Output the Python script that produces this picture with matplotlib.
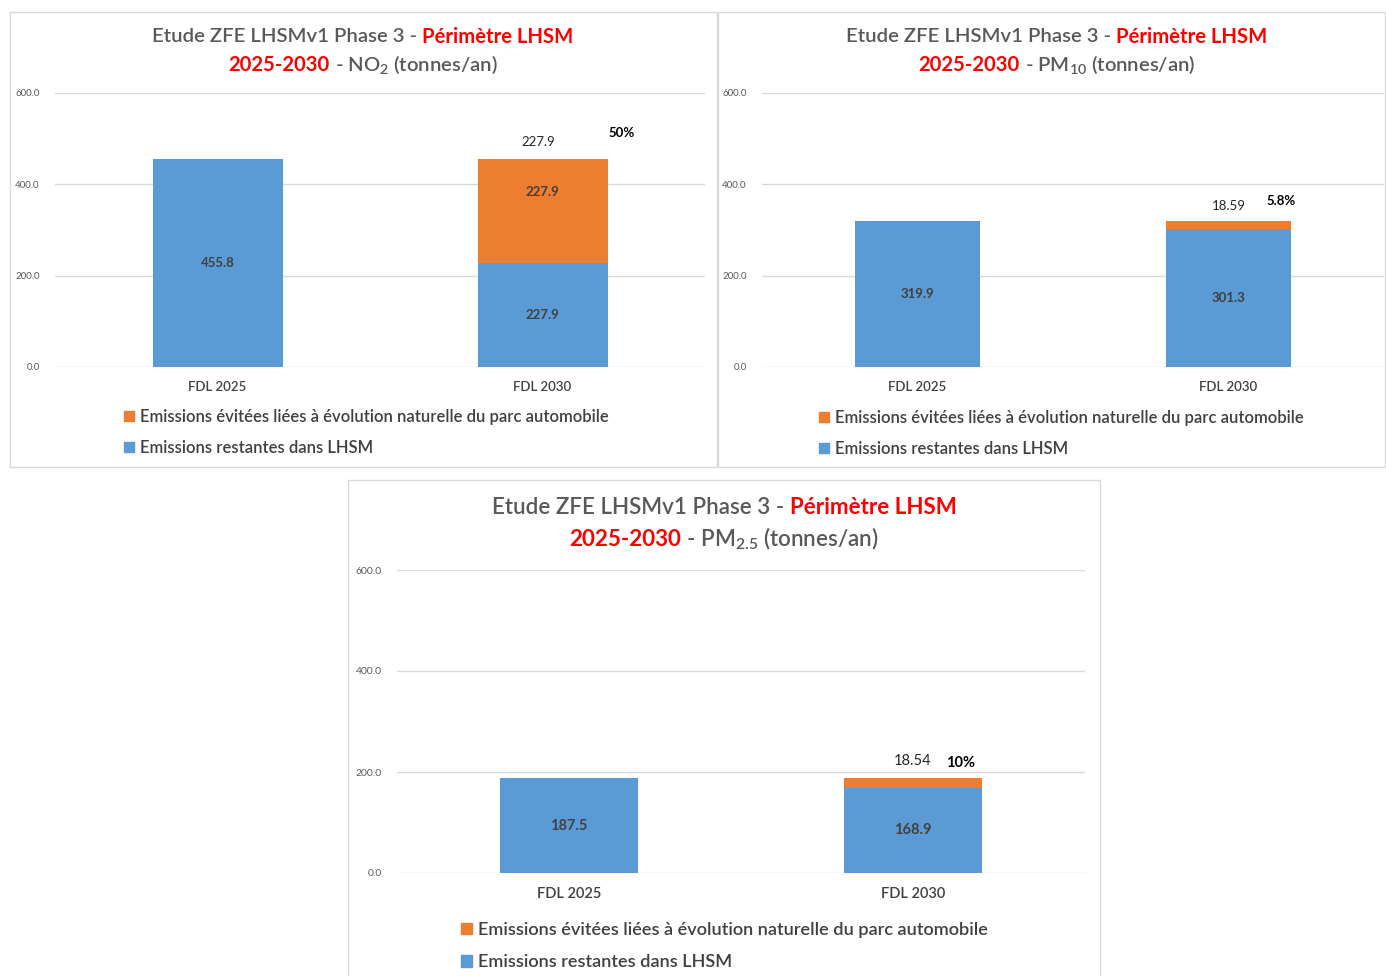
import matplotlib
matplotlib.use("Agg")
import matplotlib.pyplot as plt
from matplotlib.patches import Rectangle, Patch

# ----- DATA -----
categories = ["FDL 2025", "FDL 2030"]
yticks = [0, 200, 400, 600]

no2_restantes = [455.8, 227.9]
no2_evitees = [0.0, 227.9]
no2_pct = "50%"

pm10_restantes = [319.9, 301.3]
pm10_evitees = [0.0, 18.59]
pm10_pct = "5.8%"

pm25_restantes = [187.5, 168.9]
pm25_evitees = [0.0, 18.54]
pm25_pct = "10%"

pollutants = ["NO$_2$", "PM$_{10}$", "PM$_{2.5}$"]
legend_labels = ["Emissions évitées liées à évolution naturelle du parc automobile",
                 "Emissions restantes dans LHSM"]

# ----- STYLE -----
W, H = 1386, 976
FONT = "Lato"
BLUE = "#5b9bd5"
ORANGE = "#ed7d31"
GRAY = "#595959"
DARK = "#404040"
RED = "#ff0000"
GRID = "#d9d9d9"

plt.rcParams["font.family"] = [FONT, "DejaVu Sans"]
plt.rcParams["mathtext.fontset"] = "custom"
plt.rcParams["mathtext.rm"] = FONT + ":semibold"
plt.rcParams["mathtext.it"] = FONT + ":semibold"
plt.rcParams["mathtext.bf"] = FONT + ":bold"


def fx(px):
    return px / W


def fy(py):
    return 1 - py / H


fig = plt.figure(figsize=(W / 100, H / 100), dpi=100)
fig.patch.set_facecolor("white")

# panel layout in pixels
panels = [
    dict(box=(10, 12, 717, 467), ax=(55, 93, 705, 367), cx=363, ty=(37, 65), tsize=14.6,
         tick=7, xtick=9.5, lab=9.5, leg=(124, 409), legsize=12, top_dx=-4, top_dy=17,
         pct_dx=79, pct_dy=26),
    dict(box=(718, 12, 1385, 467), ax=(762, 93, 1384, 367), cx=1057, ty=(37, 65), tsize=14.6,
         tick=7, xtick=9.5, lab=9.5, leg=(819, 410), legsize=12, top_dx=0, top_dy=15,
         pct_dx=53, pct_dy=20),
    dict(box=(348, 480, 1100, 990), ax=(397, 570, 1085, 873), cx=724, ty=(508, 539), tsize=16.1,
         tick=7.5, xtick=10.5, lab=10.5, leg=(461, 922), legsize=13.1, top_dx=0, top_dy=17,
         pct_dx=48, pct_dy=15),
]
datasets = [
    (no2_restantes, no2_evitees, no2_pct),
    (pm10_restantes, pm10_evitees, pm10_pct),
    (pm25_restantes, pm25_evitees, pm25_pct),
]

renderer = fig.canvas.get_renderer()


def rich_line(cx, cy, parts, size):
    texts = []
    for s, c, w in parts:
        texts.append(fig.text(0, fy(cy), s, color=c, fontsize=size, fontweight=w,
                              ha="left", va="center"))
    widths = [t.get_window_extent(renderer).width for t in texts]
    x = cx - sum(widths) / 2
    for t, wd in zip(texts, widths):
        t.set_x(fx(x))
        x += wd


for p, (rest, evit, pct), pol in zip(panels, datasets, pollutants):
    x0, y0, x1, y1 = p["box"]
    fig.patches.append(Rectangle((fx(x0), fy(y1)), (x1 - x0) / W, (y1 - y0) / H,
                                 transform=fig.transFigure, fill=False,
                                 edgecolor=GRID, linewidth=1))
    a0, b0, a1, b1 = p["ax"]
    ax = fig.add_axes([fx(a0), fy(b1), (a1 - a0) / W, (b1 - b0) / H])
    ax.set_facecolor("none")
    xs = range(len(categories))
    ax.bar(xs, rest, width=0.4, color=BLUE, zorder=3)
    ax.bar(xs, evit, width=0.4, bottom=rest, color=ORANGE, zorder=3)
    ax.set_xlim(-0.5, 1.5)
    ax.set_ylim(0, 600)
    ax.set_yticks(yticks)
    ax.set_yticklabels([f"{v:.1f}" for v in yticks], fontsize=p["tick"], color=GRAY)
    ax.set_xticks(list(xs))
    ax.set_xticklabels(categories, fontsize=p["xtick"], color=DARK, fontweight="semibold")
    ax.tick_params(axis="y", length=0, pad=11)
    ax.tick_params(axis="x", length=0, pad=10)
    ax.grid(axis="y", color=GRID, linewidth=1, zorder=0)
    for s in ax.spines.values():
        s.set_visible(False)

    # labels inside the bars
    for i in xs:
        ax.text(i, rest[i] / 2, f"{rest[i]:.1f}", ha="center", va="center",
                fontsize=p["lab"], fontweight="bold", color=DARK, zorder=4)
        if evit[i] > 100:
            ax.text(i, rest[i] + evit[i] * 0.68, f"{evit[i]:.1f}", ha="center", va="center",
                    fontsize=p["lab"], fontweight="bold", color=DARK, zorder=4)
    top = rest[1] + evit[1]
    top_txt = f"{evit[1]:.1f}" if evit[1] > 100 else f"{evit[1]:.2f}"
    ax.annotate(top_txt, (1, top), xytext=(p["top_dx"] * 0.72, p["top_dy"] * 0.72),
                textcoords="offset points", ha="center", va="center",
                fontsize=p["lab"], color="#262626")
    ax.annotate(pct, (1, top), xytext=(p["pct_dx"] * 0.72, p["pct_dy"] * 0.72),
                textcoords="offset points", ha="center", va="center",
                fontsize=p["lab"], fontweight="bold", color="black")

    # title
    rich_line(p["cx"], p["ty"][0],
              [("Etude ZFE LHSMv1 Phase 3 - ", GRAY, "semibold"),
               ("Périmètre LHSM", RED, "bold")], p["tsize"])
    rich_line(p["cx"], p["ty"][1],
              [("2025-2030", RED, "bold"),
               (" - " + pol + " (tonnes/an)", GRAY, "semibold")], p["tsize"])

    # legend
    handles = [Patch(color=ORANGE), Patch(color=BLUE)]
    leg = ax.legend(handles, legend_labels, loc="upper left",
                    bbox_to_anchor=(fx(p["leg"][0]), fy(p["leg"][1])),
                    bbox_transform=fig.transFigure, frameon=False, borderpad=0,
                    borderaxespad=0, handlelength=0.6, handleheight=0.6,
                    handletextpad=0.35, labelspacing=0.9,
                    prop={"size": p["legsize"], "weight": "semibold"})
    for t in leg.get_texts():
        t.set_color(DARK)

fig.savefig("out.png", dpi=100, facecolor="white")
